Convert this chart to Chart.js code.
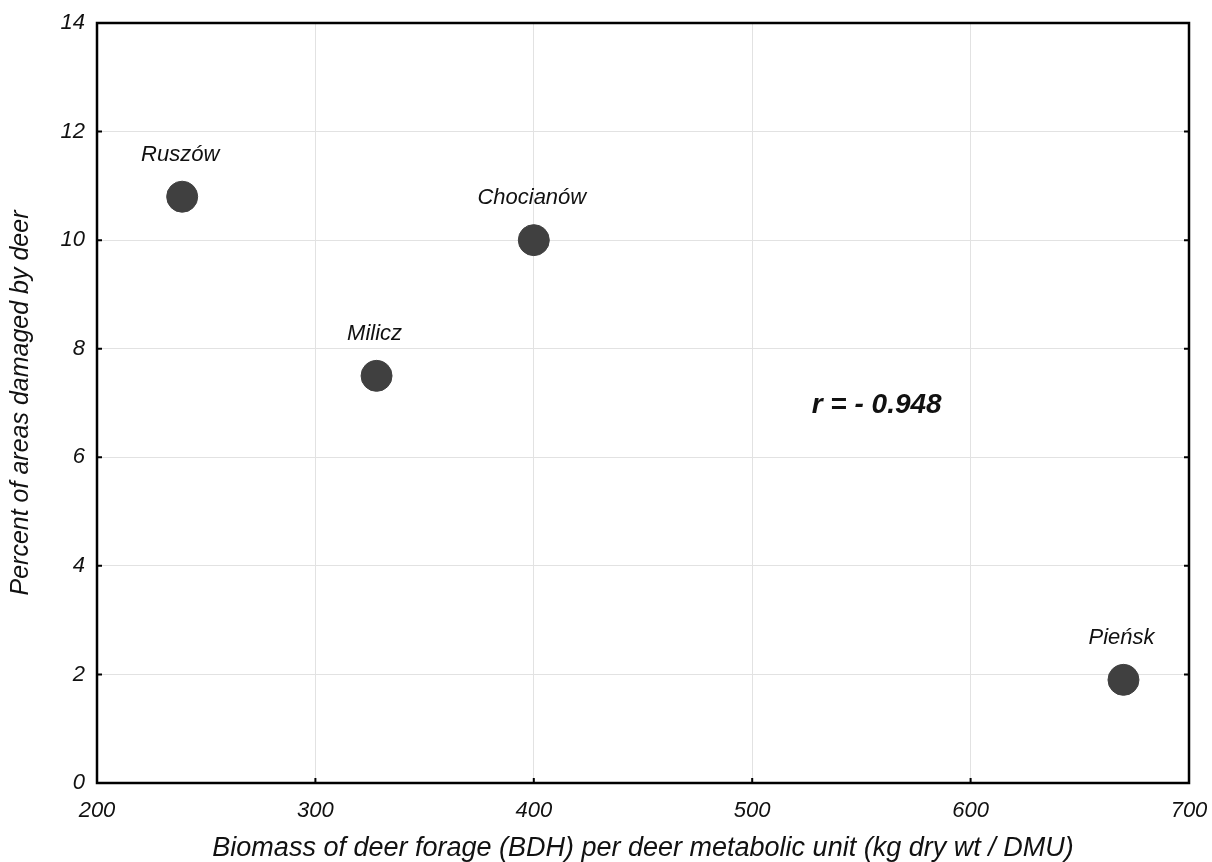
<!DOCTYPE html>
<html>
<head>
<meta charset="utf-8">
<script src="https://cdn.jsdelivr.net/npm/chart.js@4/dist/chart.umd.min.js"></script>
<style>
  html, body { margin: 0; padding: 0; background: #fff; }
  #wrap { width: 1212px; height: 862px; }
</style>
</head>
<body>
<div id="wrap"><canvas id="chart"></canvas></div>
<script>
// datos del gráfico
const sites = ["Ruszów", "Milicz", "Chocianów", "Pieńsk"];
const biomass = [239, 328, 400, 670];
const damaged = [10.8, 7.5, 10.0, 1.9];
const rText = "r = - 0.948";
const rPos = [557, 6.95];

const xTitle = "Biomass of deer forage (BDH) per deer metabolic unit (kg dry wt / DMU)";
const yTitle = "Percent of areas damaged by deer";

const FONT = "'Liberation Sans', Arial, sans-serif";

// etiquetas de los puntos, marcas interiores y el valor r
const extras = {
  id: "extras",
  afterDatasetsDraw(chart) {
    const { ctx, scales: { x, y }, chartArea: a } = chart;
    ctx.save();
    ctx.fillStyle = "#111";
    ctx.font = "italic 22px " + FONT;
    ctx.textAlign = "center";
    ctx.textBaseline = "middle";
    sites.forEach((s, i) => {
      ctx.fillText(s, x.getPixelForValue(biomass[i]) - 2, y.getPixelForValue(damaged[i]) - 42);
    });
    ctx.font = "italic bold 28px " + FONT;
    ctx.fillText(rText, x.getPixelForValue(rPos[0]), y.getPixelForValue(rPos[1]));

    // marcas cortas hacia dentro
    ctx.strokeStyle = "#000";
    ctx.lineWidth = 2;
    ctx.beginPath();
    y.ticks.forEach(t => {
      const py = y.getPixelForValue(t.value);
      ctx.moveTo(a.left, py); ctx.lineTo(a.left + 5, py);
      ctx.moveTo(a.right, py); ctx.lineTo(a.right - 5, py);
    });
    x.ticks.forEach(t => {
      const px = x.getPixelForValue(t.value);
      ctx.moveTo(px, a.bottom); ctx.lineTo(px, a.bottom - 5);
    });
    ctx.stroke();

    // marco
    ctx.lineWidth = 2.5;
    ctx.strokeRect(a.left, a.top, a.right - a.left, a.bottom - a.top);
    ctx.restore();
  }
};

new Chart(document.getElementById("chart"), {
  type: "scatter",
  data: {
    datasets: [{
      data: biomass.map((v, i) => ({ x: v, y: damaged[i] })),
      backgroundColor: "#404040",
      borderColor: "#404040",
      pointRadius: 15.5,
      pointHoverRadius: 15.5,
    }],
  },
  options: {
    responsive: true,
    maintainAspectRatio: false,
    animation: false,
    events: [],
    layout: { padding: { top: 23, right: 23, left: 0, bottom: 0 } },
    plugins: {
      legend: { display: false },
      tooltip: { enabled: false },
    },
    scales: {
      x: {
        type: "linear",
        min: 200,
        max: 700,
        afterFit: s => { s.height = 79; s.paddingLeft = 0; s.paddingRight = 0; },
        ticks: {
          stepSize: 100,
          padding: 15,
          color: "#111",
          font: { family: FONT, size: 22, style: "italic" },
        },
        grid: { color: "#e2e2e2", drawTicks: false },
        border: { display: false },
        title: {
          display: true,
          text: xTitle,
          color: "#111",
          padding: { top: 0, bottom: -3 },
          font: { family: FONT, size: 27, style: "italic" },
        },
      },
      y: {
        min: 0,
        max: 14,
        afterFit: s => { s.width = 97; s.paddingTop = 0; s.paddingBottom = 0; },
        ticks: {
          stepSize: 2,
          padding: 12,
          color: "#111",
          font: { family: FONT, size: 22, style: "italic" },
        },
        grid: { color: "#e2e2e2", drawTicks: false },
        border: { display: false },
        title: {
          display: true,
          text: yTitle,
          color: "#111",
          padding: { top: 6, bottom: 0 },
          font: { family: FONT, size: 25, style: "italic" },
        },
      },
    },
  },
  plugins: [extras],
});
</script>
</body>
</html>
